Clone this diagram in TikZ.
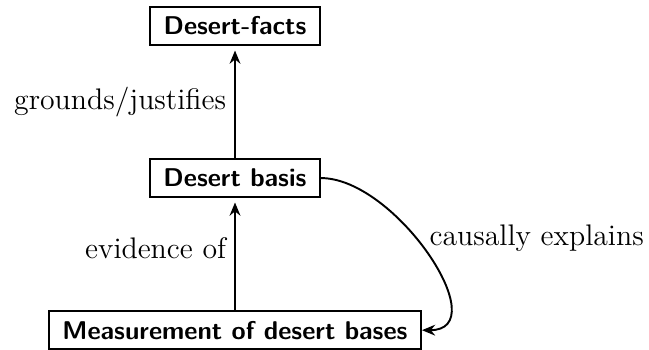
\documentclass[tikz,border=0pt]{standalone}
\usepackage{amsmath}
\usetikzlibrary{positioning,calc,arrows.meta}

\begin{document}
\begin{tikzpicture}[>={Stealth[length=5.5pt,width=4.5pt,inset=1.8pt]}, thick,
  claim/.style={draw, font=\fontsize{10.7}{13}\selectfont\sffamily\bfseries,
    inner xsep=5.6pt, inner ysep=4pt},
  rel/.style={font=\fontsize{12.4}{14}\selectfont},
  node distance=1.65cm]
\def\gap{2pt}

\node[claim] (facts) at (0,0) {Desert-facts};
\node[claim, below=of facts] (basis) {Desert basis};
\node[claim, below=of basis] (measure) {Measurement of desert bases};

% bounding box taken from the reference proportions
\useasboundingbox ($(facts.center)+(-3.44,0.38)$) rectangle ($(measure.center)+(6.06,-0.27)$);

\draw[->, shorten >=\gap] (basis) -- node[rel, midway, left] {grounds/justifies} (facts);
\draw[->, shorten >=\gap] (measure) -- node[rel, pos=0.55, left] {evidence of} (basis);
\draw[->] (basis.east) to[out=0, in=0, looseness=1.05] node[rel, pos=0.43, right, xshift=2pt] {causally explains} (measure.east);
\end{tikzpicture}
\end{document}
